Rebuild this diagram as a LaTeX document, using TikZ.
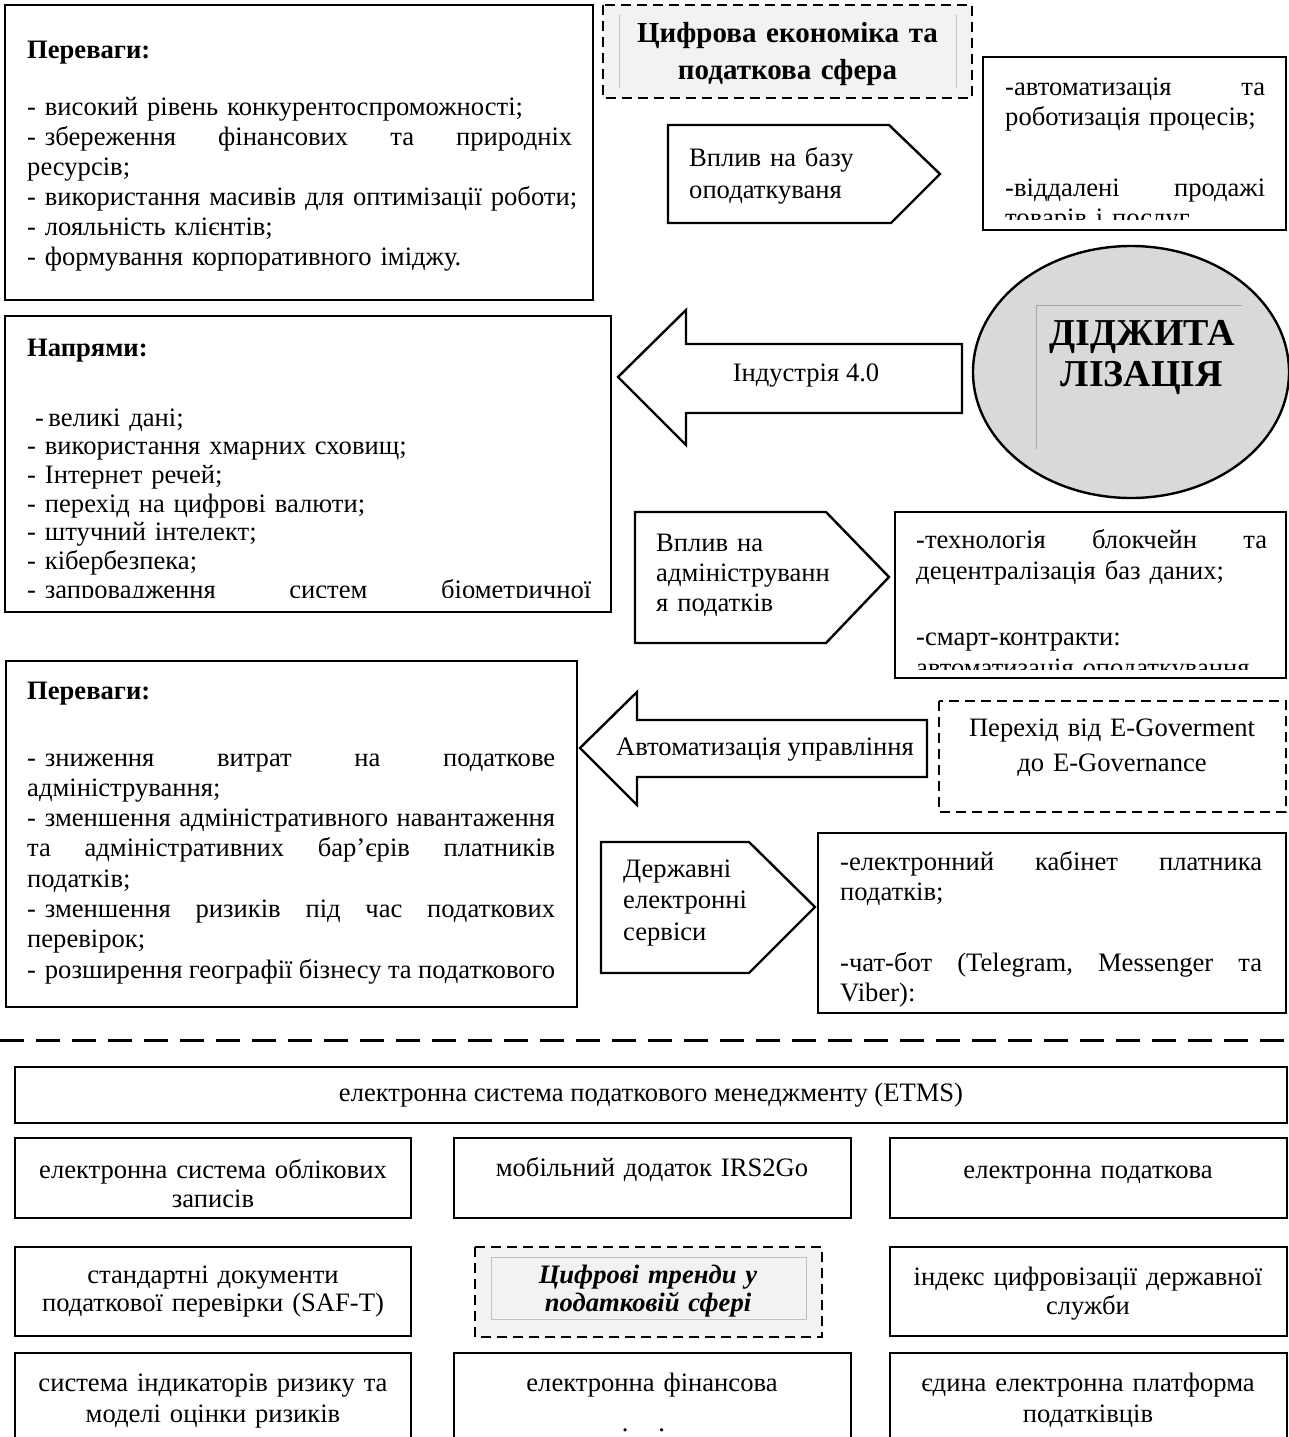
\documentclass[tikz,border=0pt]{standalone}
\usepackage{fontspec}
\setmainfont{Liberation Serif}
\definecolor{lightfill}{HTML}{F2F2F2}
\definecolor{circfill}{HTML}{D9D9D9}
\definecolor{innerln}{HTML}{BFBFBF}
\newcommand\jl[2]{\leavevmode\hbox to #1pt{#2}}
\newcommand\bodyf{\fontsize{26.6}{30}\selectfont}
\begin{document}
\begin{tikzpicture}[x=1pt,y=-1pt,
  box/.style={draw, line width=2.4pt},
  dbox/.style={draw, line width=2.4pt, dash pattern=on 10pt off 6pt},
  thin/.style={draw=innerln, line width=1pt},
  body/.style={inner sep=0pt, font=\bodyf},
  tl/.style={body, anchor=base west, align=left, text width=#1},
  tc/.style={body, anchor=base, align=center, text width=#1},
  hd/.style={tl=400pt, font=\fontsize{26.6}{30}\selectfont\bfseries}]
\useasboundingbox (0,0) rectangle (1289,1437);

% ---------- top-left box
\draw[box] (5,5) rectangle (593,300);
\node[hd] (t1) at (27,59) {Переваги:};
\node[tl=570pt] (l1) at (27,115) {- високий рівень конкурентоспроможності;\\
\jl{545}{- збереження\hfill фінансових\hfill та\hfill природніх}\\
ресурсів;\\
- використання масивів для оптимізації роботи;\\
- лояльність клієнтів;\\
- формування корпоративного іміджу.};

% ---------- top dashed title
\draw[dbox, fill=lightfill] (603,5) rectangle (972,98);
\draw[thin] (619,15) -- (619,88);
\draw[thin] (956,15) -- (956,88);
\node[tc=360pt, font=\fontsize{29}{37}\selectfont\bfseries] (ttl) at (787.5,43) {Цифрова економіка та\\ податкова сфера};

% ---------- pentagon 1
\draw[box] (668,125) -- (889,125) -- (940,174) -- (891,223) -- (668,223) -- cycle;
\node[tl=240pt, font=\fontsize{26.6}{32}\selectfont] (p1) at (689,166) {Вплив на базу\\ оподаткуваня};

% ---------- right box 1
\draw[box] (983,57) rectangle (1286,230);
\begin{scope}
\clip (985,59) rectangle (1284,219);
\node[tl=300pt] (r1) at (1005,95) {\jl{260}{-автоматизація\hfill та}\\
роботизація процесів;\\[41pt]
\jl{260}{-віддалені\hfill продажі}\\
товарів і послуг};
\end{scope}

% ---------- Напрями box
\draw[box] (5,316) rectangle (611,612);
\node[hd] (t2) at (27,356) {Напрями:};
\begin{scope}
\clip (7,318) rectangle (609,597);
\node[tl=590pt, font=\fontsize{26.6}{28.7}\selectfont] (l2) at (27,426) {\hspace*{8pt}-\,великі дані;\\
- використання хмарних сховищ;\\
- Інтернет речей;\\
- перехід на цифрові валюти;\\
- штучний інтелект;\\
- кібербезпека;\\
\jl{564}{- запровадження\hfill систем\hfill біометричної}};
\end{scope}

% ---------- arrow Industry 4.0
\draw[box] (618,377) -- (686,310) -- (686,344) -- (962,344) -- (962,413) -- (686,413) -- (686,445) -- cycle;
\node[body] (a1) at (806,376) {Індустрія 4.0};

% ---------- circle
\draw[box, fill=circfill] (1131,372) ellipse [x radius=158pt, y radius=126pt];
\draw[draw=gray!70, line width=1pt] (1036,449) -- (1036,305) -- (1242,305);
\node[tc=230pt, font=\fontsize{38}{41}\selectfont\bfseries] (dig) at (1142,345) {ДІДЖИТА\\ ЛІЗАЦІЯ};

% ---------- pentagon 2
\draw[box] (635,512) -- (826,512) -- (889,577) -- (826,643) -- (635,643) -- cycle;
\node[tl=240pt] (p2) at (656,551) {Вплив на\\ адмініструванн\\ я податків};

% ---------- right box 2
\draw[box] (895,512) rectangle (1286,678);
\begin{scope}
\clip (897,514) rectangle (1284,669);
\node[tl=380pt, font=\fontsize{26.6}{31}\selectfont] (r2) at (916,548) {\jl{351}{-технологія\hfill блокчейн\hfill та}\\
децентралізація баз даних;\\[35pt]
-смарт-контракти:\\
автоматизація оподаткування};
\end{scope}

% ---------- bottom-left box
\draw[box] (6,661) rectangle (577,1007);
\node[hd] (t3) at (27,699) {Переваги:};
\node[tl=560pt, font=\fontsize{26.6}{30.3}\selectfont] (l3) at (27,766) {\jl{528}{- зниження\hfill витрат\hfill на\hfill податкове}\\
адміністрування;\\
\jl{528}{- зменшення\hfill адміністративного\hfill навантаження}\\
\jl{528}{та\hfill адміністративних\hfill бар’єрів\hfill платників}\\
податків;\\
\jl{528}{- зменшення\hfill ризиків\hfill під\hfill час\hfill податкових}\\
перевірок;\\
\jl{528}{- розширення\hfill географії\hfill бізнесу\hfill та\hfill податкового}};

% ---------- arrow automation
\draw[box] (580,748) -- (637,692) -- (637,720) -- (927,720) -- (927,777) -- (637,777) -- (637,805) -- cycle;
\node[body] (a2) at (765,750) {Автоматизація управління};

% ---------- dashed E-Governance
\draw[dbox] (939,701) rectangle (1286,812);
\node[tc=340pt, font=\fontsize{26.6}{35}\selectfont] (eg) at (1112,736) {Перехід від E-Goverment\\ до E-Governance};

% ---------- pentagon 3
\draw[box] (601,842) -- (749,842) -- (815,907) -- (749,973) -- (601,973) -- cycle;
\node[tl=200pt, font=\fontsize{26.6}{31.5}\selectfont] (p3) at (623,877) {Державні\\ електронні\\ сервіси};

% ---------- right box 3
\draw[box] (818,833) rectangle (1286,1013);
\begin{scope}
\clip (820,835) rectangle (1284,1006);
\node[tl=450pt] (r3) at (840,870) {\jl{422}{-електронний\hfill кабінет\hfill платника}\\
податків;\\[41pt]
\jl{422}{-чат-бот\hfill (Telegram,\hfill Messenger\hfill та}\\
Viber):};
\end{scope}

% ---------- separator
\draw[line width=3pt, dash pattern=on 24pt off 12pt] (0,1040) -- (1289,1040);

% ---------- bottom grid
\draw[box] (15,1067) rectangle (1287,1123);
\node[body] (etms) at (651,1095) {електронна система податкового менеджменту (ETMS)};

\draw[box] (15,1138) rectangle (411,1218);
\draw[box] (454,1138) rectangle (851,1218);
\draw[box] (890,1138) rectangle (1287,1218);
\node[tc=390pt, font=\fontsize{26.6}{29}\selectfont] (b21) at (213,1178) {електронна система облікових\\ записів};
\node[tc=390pt] (b22) at (652,1176) {мобільний додаток IRS2Go};
\node[tc=390pt] (b23) at (1088,1178) {електронна податкова};

\draw[box] (15,1247) rectangle (411,1336);
\draw[dbox, fill=lightfill] (475,1247) rectangle (822,1337);
\draw[thin] (491,1257) rectangle (806,1319);
\draw[box] (890,1247) rectangle (1287,1336);
\node[tc=390pt, font=\fontsize{26.6}{28.5}\selectfont] (b31) at (213,1283) {стандартні документи\\ податкової перевірки (SAF-T)};
\node[tc=330pt, font=\fontsize{26.6}{28.5}\selectfont\bfseries\itshape] (b32) at (648,1283) {Цифрові тренди у\\ податковій сфері};
\node[tc=390pt, font=\fontsize{26.6}{29}\selectfont] (b33) at (1088,1285) {індекс цифровізації державної\\ служби};

\draw[box] (15,1445) -- (15,1353) -- (411,1353) -- (411,1445);
\draw[box] (454,1445) -- (454,1353) -- (851,1353) -- (851,1445);
\draw[box] (890,1445) -- (890,1353) -- (1287,1353) -- (1287,1445);
\node[tc=390pt, font=\fontsize{26.6}{31}\selectfont] (b41) at (213,1391) {система індикаторів ризику та\\ моделі оцінки ризиків};
\node[tc=390pt] (b42) at (652,1391) {електронна фінансова};
\node[body, anchor=base] (b42d) at (643.5,1431) {.\hspace{30pt}.};
\node[tc=390pt, font=\fontsize{26.6}{31}\selectfont] (b43) at (1088,1391) {єдина електронна платформа\\ податківців};
\end{tikzpicture}
\end{document}
